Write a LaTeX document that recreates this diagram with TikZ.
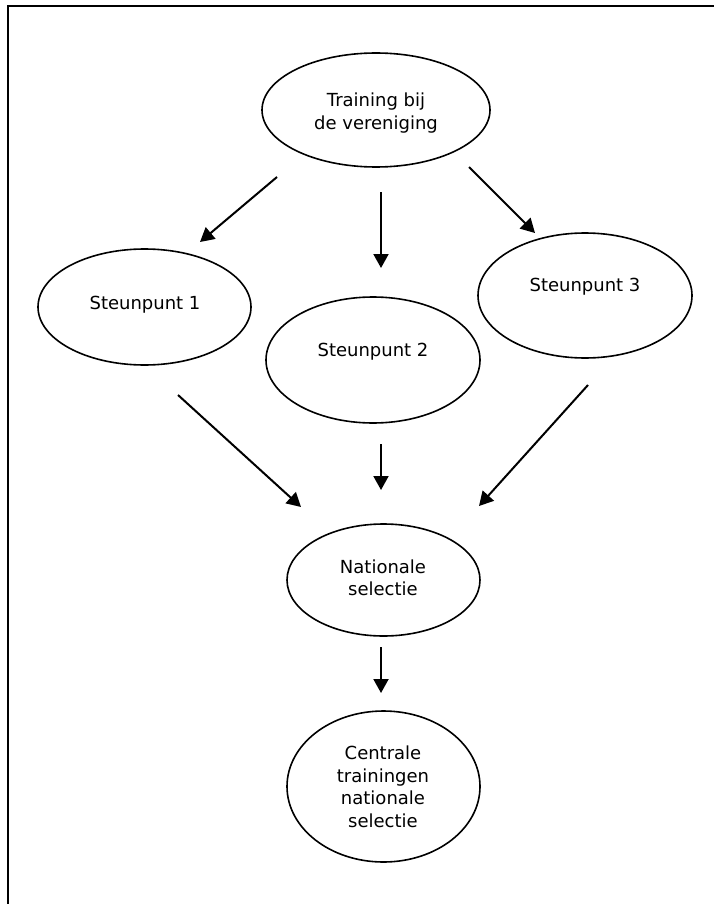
\documentclass[tikz,border=0pt]{standalone}
\usepackage{fontspec}
\setmainfont{DejaVu Sans}
\usetikzlibrary{shapes.geometric,arrows.meta}
\tikzset{
  oval/.style={draw=black, line width=1.6pt, ellipse, inner sep=0pt},
  lbl/.style={align=center, inner sep=0pt, font=\fontsize{18}{22.5}\selectfont},
  conn/.style={line width=2pt, -{Triangle[length=14pt,width=15pt]}},
  frame/.style={line width=2pt}
}
\begin{document}
\begin{tikzpicture}[x=1pt,y=-1pt]
\useasboundingbox (0,0) rectangle (713,904);
% frame (top and left sides)
\coordinate (fbl) at (8,905);
\coordinate (ftl) at (8,6);
\coordinate (ftr) at (714,6);
\draw[frame] (fbl) -- (ftl) -- (ftr);
% ellipses
\node[oval, minimum width=228pt, minimum height=114pt] (top) at (376,110) {};
\node[oval, minimum width=213pt, minimum height=116pt] (s1) at (144.5,307) {};
\node[oval, minimum width=214pt, minimum height=126pt] (s2) at (373,360) {};
\node[oval, minimum width=214pt, minimum height=125pt] (s3) at (585,295.5) {};
\node[oval, minimum width=193pt, minimum height=112pt] (nat) at (383.5,580) {};
\node[oval, minimum width=193pt, minimum height=151pt] (cen) at (383.5,786.5) {};
% texts
\node[lbl] (toptext) at (376,113) {Training bij\\de vereniging};
\node[lbl] (s1text) at (145,305) {Steunpunt 1};
\node[lbl] (s2text) at (373,352) {Steunpunt 2};
\node[lbl] (s3text) at (585,287) {Steunpunt 3};
\node[lbl] (nattext) at (383,578) {Nationale\\selectie};
\node[lbl] (centext) at (383,787) {Centrale\\trainingen\\nationale\\selectie};
% arrow end points
\coordinate (a1s) at (277,177); \coordinate (a1e) at (200,242);
\coordinate (a2s) at (381,192); \coordinate (a2e) at (381,268);
\coordinate (a3s) at (469,167); \coordinate (a3e) at (535,233);
\coordinate (a4s) at (178,395); \coordinate (a4e) at (301,507);
\coordinate (a5s) at (381,444); \coordinate (a5e) at (381,490);
\coordinate (a6s) at (588,385); \coordinate (a6e) at (479,506);
\coordinate (a7s) at (381,647); \coordinate (a7e) at (381,693);
\draw[conn] (a1s) -- (a1e);
\draw[conn] (a2s) -- (a2e);
\draw[conn] (a3s) -- (a3e);
\draw[conn] (a4s) -- (a4e);
\draw[conn] (a5s) -- (a5e);
\draw[conn] (a6s) -- (a6e);
\draw[conn] (a7s) -- (a7e);
\end{tikzpicture}
\end{document}
